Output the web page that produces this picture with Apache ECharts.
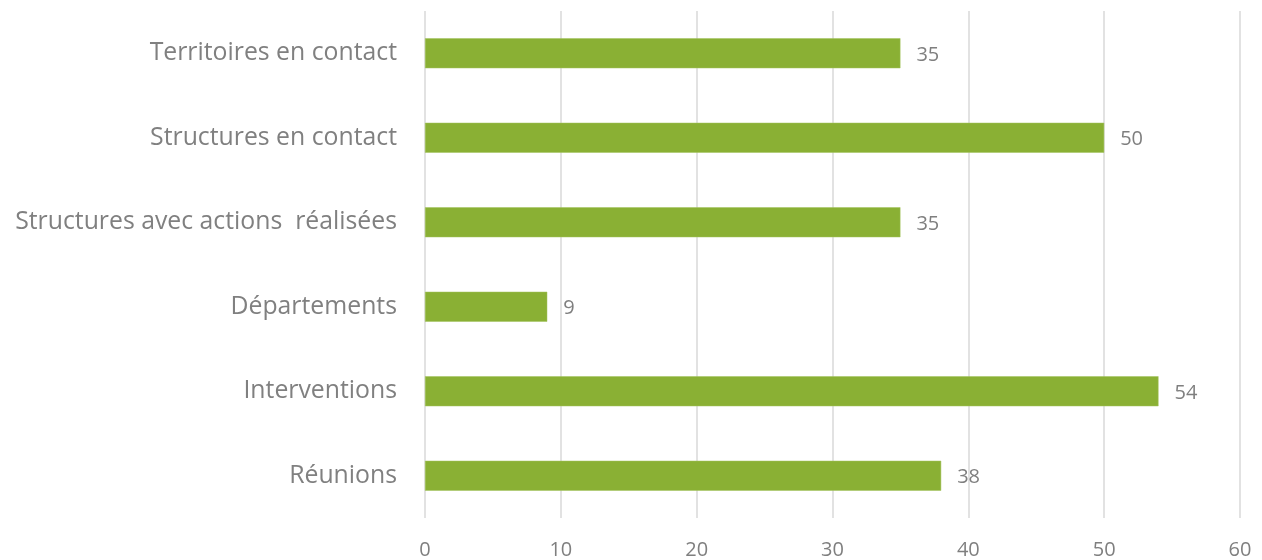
<!DOCTYPE html>
<html><head><meta charset="utf-8">
<script src="https://cdn.jsdelivr.net/npm/echarts@6/dist/echarts.min.js"></script>
<style>html,body{margin:0;padding:0;background:#fff}#c{width:1262px;height:560px}</style>
</head><body><div id="c"></div>
<script>
const categories = ["Réunions", "Interventions", "Départements", "Structures avec actions  réalisées", "Structures en contact", "Territoires en contact"];
const values = [38, 54, 9, 35, 50, 35];
const xTicks = [0, 10, 20, 30, 40, 50, 60];

const chart = echarts.init(document.getElementById('c'));
chart.setOption({
  animation: false,
  grid: {left: 425, right: 22, top: 11, bottom: 42, containLabel: false},
  xAxis: {
    type: 'value', min: xTicks[0], max: xTicks[xTicks.length-1], interval: 10,
    axisLine: {show: false}, axisTick: {show: false},
    splitLine: {lineStyle: {color: '#d9d9d9', width: 1.5}},
    axisLabel: {color: '#7f7f7f', fontSize: 20, fontFamily: 'Open Sans', margin: 22}
  },
  yAxis: {
    type: 'category', data: categories,
    axisLine: {show: false}, axisTick: {show: false},
    axisLabel: {color: '#808080', fontSize: 24.8, fontFamily: 'Open Sans', fontWeight: 'normal', margin: 28}
  },
  series: [{
    type: 'bar', data: values, barWidth: 30,
    itemStyle: {color: '#8ab034', borderColor: '#a3c35c', borderWidth: 0.5},
    label: {show: true, position: 'right', distance: 16, color: '#7f7f7f', fontSize: 20, fontFamily: 'Open Sans', offset: [0, 2]}
  }]
});
</script></body></html>
